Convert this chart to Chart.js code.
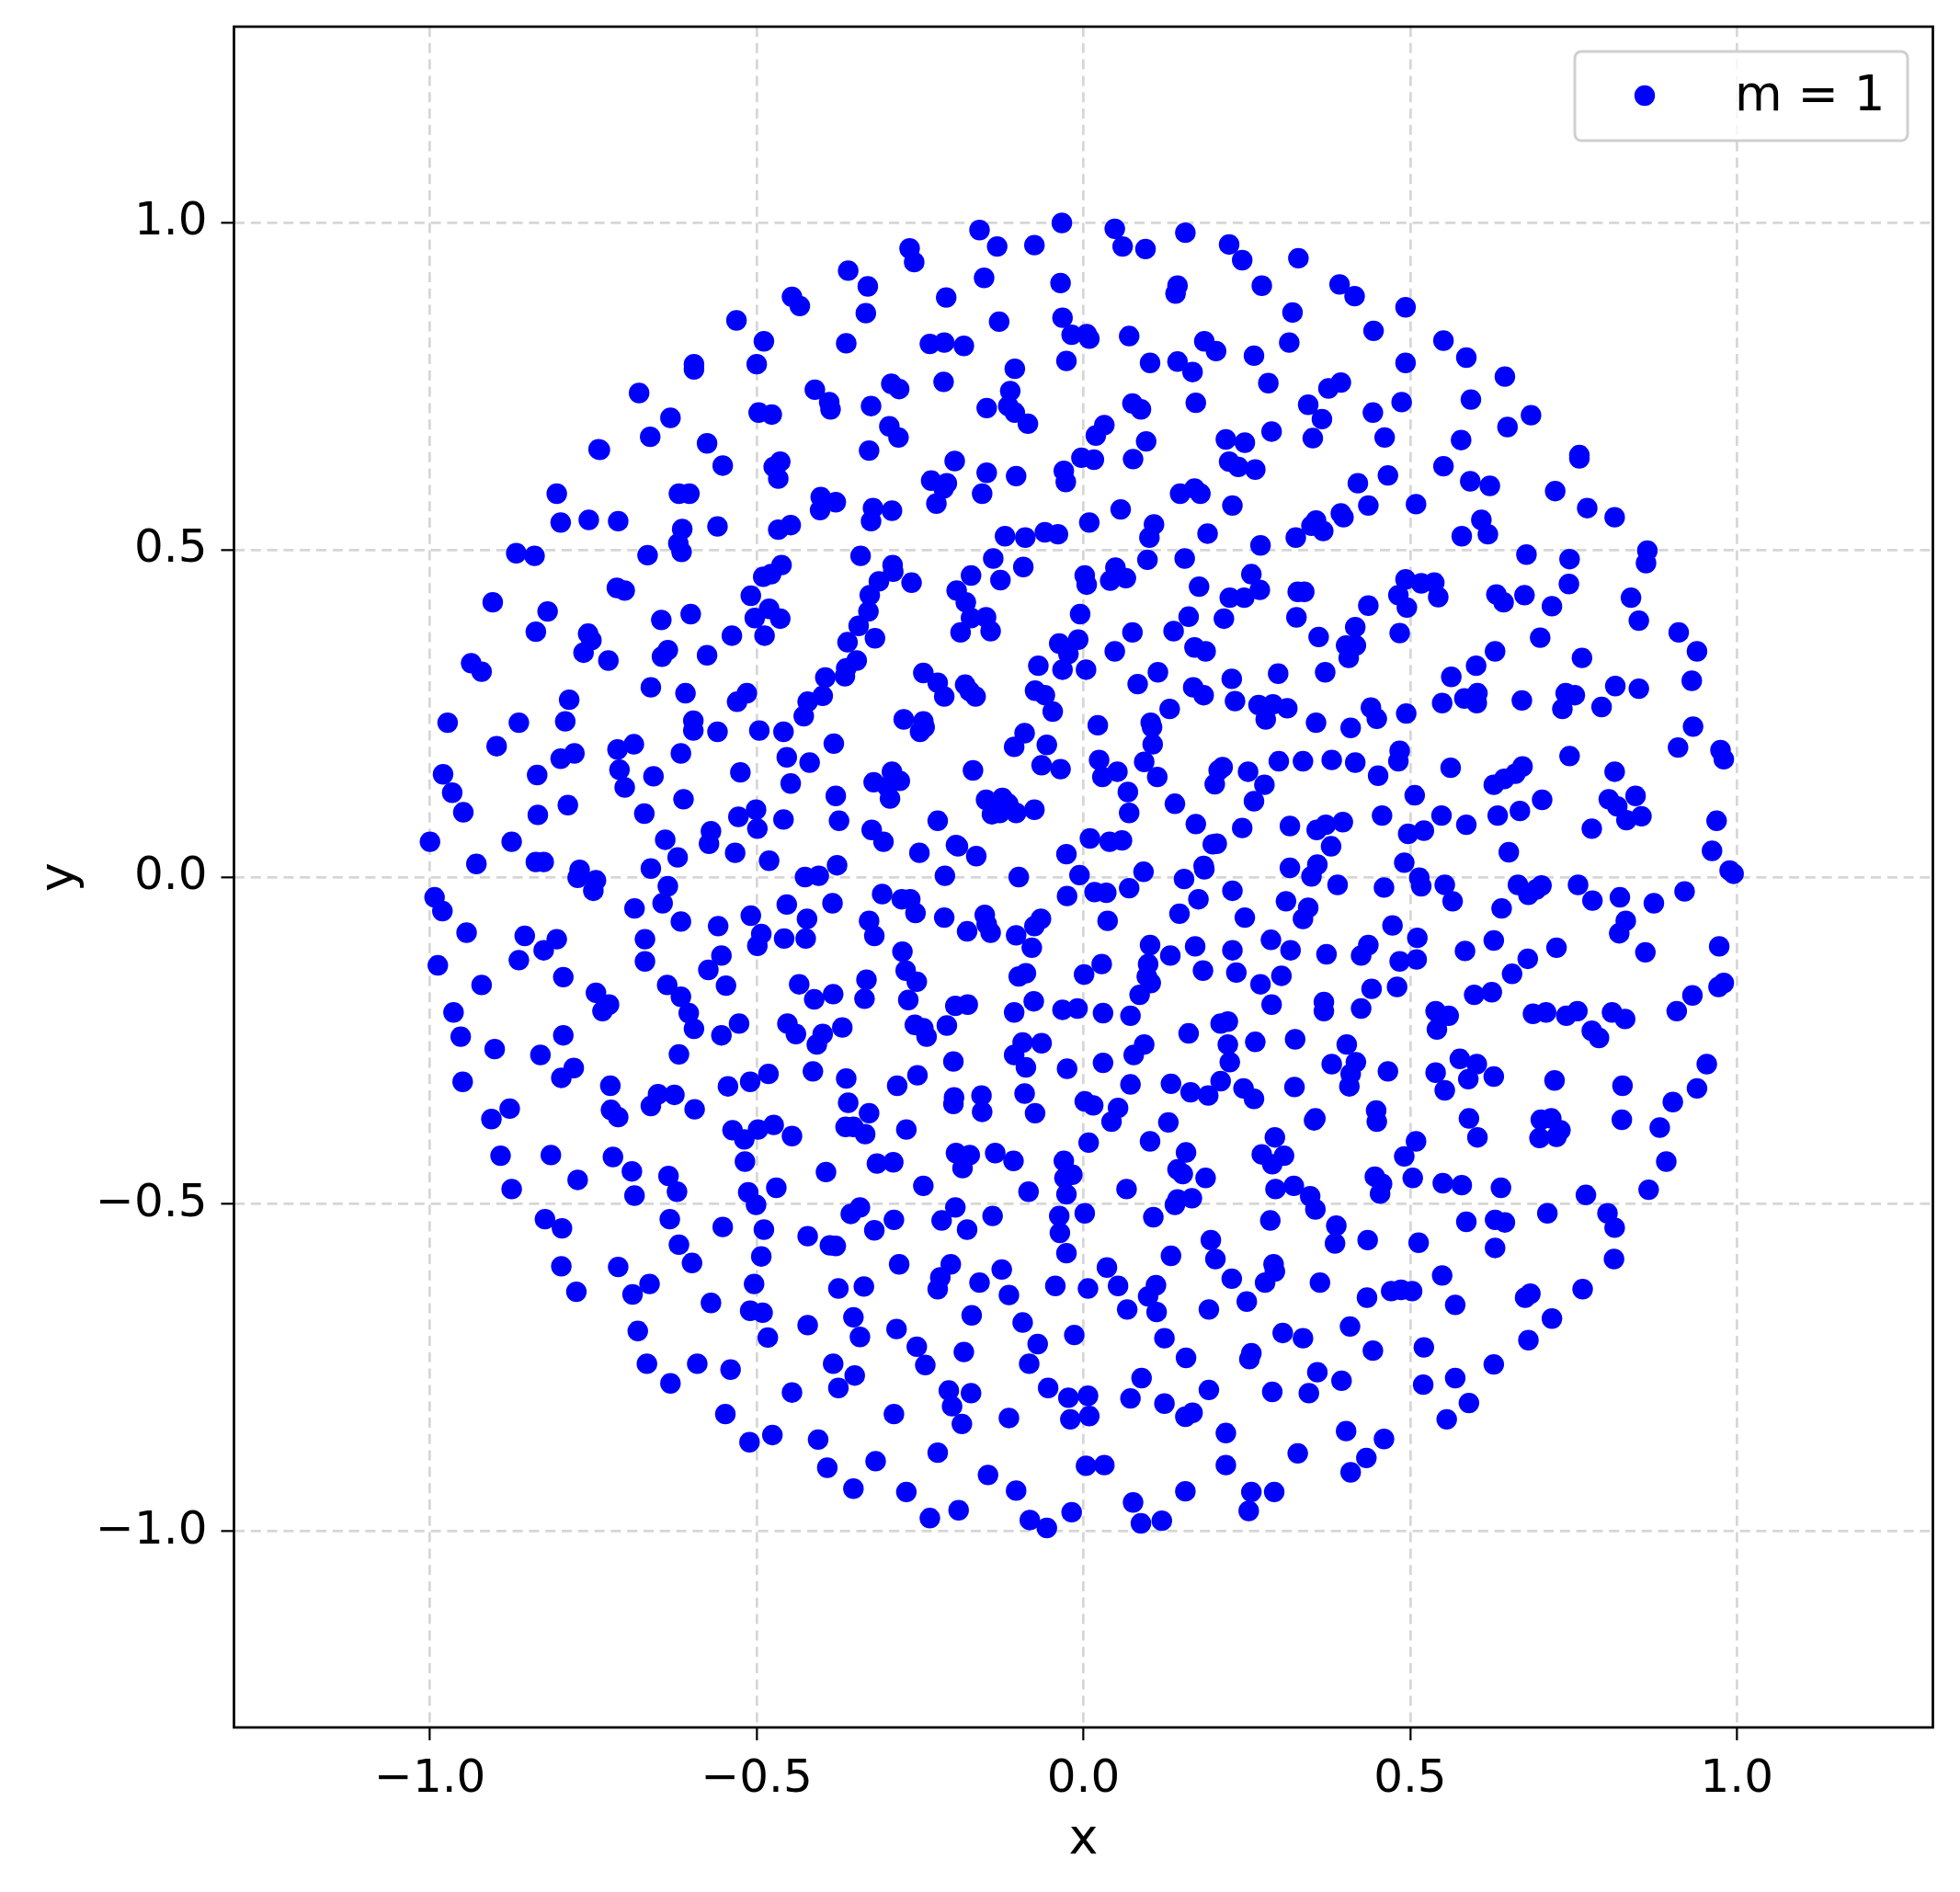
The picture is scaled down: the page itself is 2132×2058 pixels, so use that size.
<!DOCTYPE html>
<html lang="en">
<head>
  <meta charset="UTF-8" />
  <title>Points in the unit disc</title>
  <script src="https://cdn.jsdelivr.net/npm/chart.js"></script>
  <style>
    html, body { margin: 0; background: #fff; }
    canvas { display: block; }
  </style>
</head>
<body>
  <canvas id="discChart" width="2132" height="2058"></canvas>

  <script>
    const seriesLabel = 'm = 1';
    const xAxisTitle = 'x';
    const yAxisTitle = 'y';
    const tickValues = [-1, -0.5, 0, 0.5, 1];

    // one list per part of the disc
    const upperLeft = [
      [-.159,.989],[-.266,.961],[-.259,.940],[-.360,.927],[-.330,.903],[-.152,.916],[-.210,.886],[-.446,.887],[-.434,.873],
      [-.531,.851],[-.333,.862],[-.489,.819],[-.363,.816],[-.235,.815],[-.213,.817],[-.183,.812],[-.500,.784],[-.596,.784],
      [-.596,.776],[-.214,.757],[-.411,.745],[-.294,.754],[-.282,.746],[-.680,.740],[-.389,.726],[-.387,.715],[-.325,.720],
      [-.148,.717],[-.497,.710],[-.477,.707],[-.632,.702],[-.297,.689],[-.283,.672],[-.663,.673],[-.576,.663],[-.328,.652],
      [-.197,.636],[-.742,.654],[-.740,.653],[-.552,.629],[-.464,.635],[-.474,.627],[-.467,.609],[-.148,.618],[-.233,.606],
      [-.209,.602],[-.214,.594],[-.225,.571],[-.155,.586],[-.806,.586],[-.619,.586],[-.603,.586],[-.402,.581],[-.379,.573],
      [-.403,.561],[-.322,.564],[-.293,.560],[-.325,.544],[-.800,.542],[-.757,.546],[-.712,.544],[-.614,.532],[-.560,.536],
      [-.467,.531],[-.448,.538],[-.620,.510],[-.615,.497],[-.868,.495],[-.840,.491],[-.667,.492],[-.341,.491],[-.292,.477],
      [-.291,.467],[-.462,.477],[-.478,.463],[-.490,.459],[-.172,.461],[-.714,.442],[-.702,.438],[-.313,.452],[-.263,.450],
      [-.194,.438],[-.180,.420],[-.904,.420],[-.509,.430],[-.327,.431],[-.820,.406],[-.329,.406],[-.481,.410],[-.503,.396],
      [-.464,.395],[-.601,.402],[-.646,.393],[-.172,.396],[-.149,.397],[-.142,.376],[-.188,.374],[-.838,.375],[-.758,.372],
      [-.753,.362],[-.765,.343],[-.344,.384],[-.538,.369],[-.488,.369],[-.319,.365],[-.361,.359],[-.636,.347],[-.645,.337],
      [-.576,.339],[-.727,.331],[-.347,.331],[-.363,.319],[-.365,.307],[-.937,.327],[-.921,.314],[-.395,.305],[-.245,.312],
      [-.223,.297],[-.213,.276],[-.181,.294],[-.174,.284],[-.165,.276],[-.662,.290],[-.609,.281],[-.515,.281],[-.530,.268],
      [-.399,.277],[-.422,.268],[-.428,.246],[-.787,.271],[-.973,.236],[-.864,.236],[-.793,.238],[-.597,.239],[-.597,.224],
      [-.560,.222],[-.496,.224],[-.459,.222],[-.275,.241],[-.245,.238],[-.243,.229],[-.250,.222],[-.898,.200],[-.688,.203],
      [-.713,.195],[-.616,.189],[-.779,.189],[-.800,.181],[-.382,.204],[-.454,.183],[-.419,.175],[-.980,.157],[-.966,.129],
      [-.949,.099],[-.836,.156],[-.710,.164],[-.702,.137],[-.658,.154],[-.525,.160],[-.293,.161],[-.321,.145],[-.281,.147],
      [-.300,.138],[-.296,.120],[-.169,.163],[-.448,.143],[-.612,.119],[-.379,.124],[-.789,.110],[-.835,.095],[-.501,.103],
      [-.528,.092],[-.499,.074],[-.672,.097],[-.459,.088],[-.374,.086],[-.223,.086],[-.140,.096],[-.570,.070],[-.573,.051],
      [-.324,.072],[-.306,.054],[-1.0,.054],[-.875,.054],[-.640,.057],[-.195,.049],[-.192,.047],[-.251,.037],[-.164,.032],
      [-.533,.037],[-.621,.030],[-.929,.020],[-.838,.023],[-.826,.023],[-.771,.011],[-.662,.013],[-.481,.025],[-.377,.018],
      [-.426,.000],[-.405,.002],[-.212,.002],[-.774,-.001],[-.746,-.005]
    ];

    const upperRight = [
      [-.033,1.0],[.048,.991],[.060,.964],[.095,.960],[-.075,.966],[-.132,.964],[.156,.985],[.223,.967],[.243,.943],[.329,.946],
      [-.035,.908],[.144,.904],[.141,.892],[.273,.904],[.392,.906],[.415,.888],[.320,.863],[.493,.871],[-.129,.849],[-.032,.855],
      [.444,.835],[-.018,.829],[.005,.830],[.009,.823],[.070,.827],[.551,.820],[.185,.819],[.203,.804],[.315,.817],[.102,.786],
      [.144,.788],[.167,.772],[.261,.797],[.586,.794],[.493,.786],[-.105,.777],[-.026,.789],[.645,.765],[.283,.755],[.394,.756],
      [.375,.747],[-.112,.743],[-.115,.720],[-.105,.710],[-.085,.693],[.344,.722],[.365,.700],[.075,.724],[.088,.715],[.172,.725],
      [.593,.730],[.032,.691],[.019,.675],[.443,.710],[.487,.726],[.685,.706],[.649,.688],[.218,.669],[.247,.664],[.288,.681],
      [.351,.671],[.461,.672],[.578,.668],[.096,.666],[-.003,.641],[.016,.638],[.076,.639],[.223,.635],[.237,.627],[.263,.623],
      [.551,.628],[.466,.614],[-.030,.621],[-.027,.604],[-.103,.613],[.420,.602],[.592,.605],[.622,.598],[.722,.590],[.170,.594],
      [.148,.586],[.179,.586],[.228,.568],[.436,.568],[.509,.570],[.394,.556],[.398,.550],[.356,.545],[.349,.537],[.367,.529],
      [.057,.562],[.009,.542],[.108,.539],[.101,.519],[.325,.519],[.190,.525],[.609,.546],[.619,.524],[.579,.521],[-.120,.521],
      [-.089,.519],[-.059,.527],[-.039,.524],[.271,.507],[-.138,.487],[.098,.485],[.155,.487],[.678,.493],[-.092,.474],[-.127,.454],
      [.002,.461],[.005,.447],[.049,.473],[.041,.453],[.065,.457],[.257,.463],[.177,.444],[.270,.439],[.246,.427],[.224,.427],
      [.493,.455],[.517,.449],[.537,.450],[.482,.431],[.495,.412],[.543,.428],[.328,.436],[.338,.436],[.632,.432],[.643,.420],
      [.675,.431],[.717,.414],[.436,.415],[-.005,.402],[.161,.398],[.215,.395],[.326,.397],[.138,.376],[.075,.374],[.416,.382],
      [.360,.367],[.484,.373],[.699,.366],[-.008,.363],[-.037,.357],[-.023,.341],[.048,.345],[.170,.351],[.187,.345],[.402,.354],
      [.417,.354],[.406,.335],[.630,.345],[.601,.323],[-.069,.323],[-.032,.317],[.004,.317],[.114,.313],[.083,.295],[.227,.303],
      [.298,.311],[.370,.313],[.563,.306],[.168,.290],[.184,.278],[-.074,.285],[-.059,.278],[-.047,.253],[.232,.269],[.268,.263],
      [.290,.264],[.279,.241],[.312,.258],[.440,.259],[.449,.242],[.494,.250],[.549,.266],[.583,.273],[.603,.281],[.602,.266],
      [.671,.270],[.132,.257],[.103,.236],[.105,.229],[.356,.236],[.409,.228],[.022,.232],[-.090,.220],[-.106,.199],[-.056,.202],
      [.106,.203],[.484,.193],[.482,.177],[.299,.177],[.336,.177],[.380,.179],[.416,.175],[.024,.179],[.093,.176],[.562,.167],
      [.672,.169],[.661,.158],[.644,.150],[.628,.141],[.213,.168],[.207,.163],[.201,.142],[.252,.161],[-.064,.171],[-.035,.165],
      [.052,.161],[.029,.153],[.113,.153],[.451,.155],[.277,.141],[.261,.116],[.068,.130],[.507,.125],[.702,.118],[-.124,.121],
      [-.149,.118],[-.115,.112],[-.128,.098],[-.103,.098],[-.075,.103],[.070,.098],[.140,.112],[.548,.094],[.586,.080],[.634,.094],
      [.668,.101],[.457,.094],[.172,.081],[.243,.075],[.316,.078],[.357,.072],[.371,.080],[.397,.084],[.497,.066],[.521,.071],
      [.010,.059],[.040,.054],[.059,.056],[.379,.047],[.198,.050],[.204,.051],[.651,.038],[-.026,.035],[-.099,.000],[-.006,.003],
      [.092,.008],[.184,.017],[.185,.012],[.154,-.003],[.316,.014],[.358,.019],[.349,.001],[.491,.022],[.514,-.001],
      // right-hand edge
      [.759,.645],[.759,.640],[.771,.564],[.813,.550],[.863,.499],[.861,.480],[.744,.486],[.743,.448],[.838,.427],[.850,.392],
      [.911,.374],[.939,.345],[.931,.300],[.763,.335],[.738,.281],[.752,.278],[.733,.257],[.814,.292],[.850,.288],[.793,.260],
      [.933,.230],[.910,.198],[.975,.194],[.980,.180],[.744,.185],[.813,.161],[.845,.124],[.804,.119],[.817,.108],[.854,.093],
      [.831,.087],[.778,.074],[.969,.086],[.962,.040],[.989,.010],[.995,.005]
    ];

    const lowerLeft = [
      [-.993,-.031],[-.981,-.052],[-.944,-.085],[-.855,-.090],[-.806,-.095],[-.826,-.112],[-.864,-.127],[-.988,-.135],[-.921,-.165],
      [-.796,-.153],[-.746,-.177],[-.726,-.195],[-.736,-.205],[-.964,-.207],[-.953,-.244],[-.901,-.263],[-.950,-.313],[-.796,-.242],
      [-.831,-.272],[-.780,-.292],[-.799,-.307],[-.724,-.319],[-.878,-.354],[-.906,-.370],[-.723,-.356],[-.712,-.367],[-.892,-.426],
      [-.815,-.425],[-.875,-.477],[-.774,-.463],[-.720,-.428],[-.691,-.450],[-.687,-.487],[-.824,-.523],[-.798,-.537],[-.799,-.595],
      [-.712,-.596],[-.776,-.634],[-.664,-.622],[-.690,-.638],[-.682,-.694],[-.668,-.744],[-.632,-.774],[-.591,-.744],[-.540,-.753],
      [-.570,-.651],[-.635,-.457],[-.622,-.481],[-.633,-.523],[-.619,-.562],[-.599,-.590],[-.552,-.535],[-.687,-.048],[-.644,-.040],
      [-.636,-.014],[-.616,-.068],[-.750,-.021],[-.671,-.095],[-.671,-.129],[-.559,-.075],[-.509,-.059],[-.493,-.087],[-.499,-.105],
      [-.454,-.042],[-.458,-.094],[-.425,-.094],[-.423,-.064],[-.384,-.040],[-.308,-.026],[-.278,-.034],[-.265,-.034],[-.257,-.055],
      [-.213,-.062],[-.328,-.067],[-.320,-.090],[-.178,-.083],[-.151,-.058],[-.148,-.072],[-.142,-.085],[-.637,-.165],[-.616,-.183],
      [-.604,-.208],[-.596,-.232],[-.554,-.120],[-.574,-.142],[-.547,-.166],[-.527,-.224],[-.554,-.242],[-.619,-.271],[-.435,-.164],
      [-.412,-.187],[-.383,-.179],[-.332,-.157],[-.335,-.186],[-.277,-.114],[-.272,-.143],[-.255,-.160],[-.268,-.188],[-.453,-.224],
      [-.440,-.240],[-.399,-.240],[-.408,-.256],[-.369,-.230],[-.196,-.197],[-.177,-.195],[-.258,-.226],[-.245,-.231],[-.240,-.244],
      [-.209,-.227],[-.199,-.282],[-.414,-.297],[-.363,-.308],[-.482,-.301],[-.510,-.313],[-.544,-.320],[-.254,-.303],[-.285,-.319],
      [-.651,-.332],[-.626,-.333],[-.662,-.350],[-.595,-.355],[-.360,-.345],[-.328,-.361],[-.198,-.337],[-.199,-.347],[-.156,-.334],
      [-.155,-.359],[-.537,-.387],[-.519,-.401],[-.498,-.386],[-.474,-.379],[-.446,-.396],[-.364,-.382],[-.352,-.382],[-.334,-.393],
      [-.271,-.386],[-.518,-.435],[-.195,-.422],[-.174,-.425],[-.185,-.445],[-.316,-.438],[-.291,-.436],[-.394,-.451],[-.245,-.472],
      [-.513,-.482],[-.501,-.501],[-.470,-.475],[-.342,-.505],[-.356,-.515],[-.290,-.524],[-.320,-.540],[-.196,-.505],[-.217,-.525],
      [-.178,-.539],[-.489,-.539],[-.422,-.549],[-.388,-.563],[-.379,-.564],[-.493,-.580],[-.282,-.592],[-.203,-.592],[-.219,-.612],
      [-.223,-.630],[-.159,-.620],[-.504,-.622],[-.375,-.629],[-.336,-.626],[-.510,-.663],[-.491,-.666],[-.483,-.704],[-.352,-.673],
      [-.342,-.703],[-.422,-.685],[-.286,-.691],[-.171,-.670],[-.255,-.718],[-.242,-.746],[-.183,-.726],[-.383,-.744],[-.350,-.762],
      [-.375,-.781],[-.446,-.788],[-.206,-.785],[-.172,-.789],[-.201,-.809],[-.186,-.836],[-.548,-.821],[-.290,-.821],[-.476,-.853],
      [-.511,-.864],[-.406,-.860],[-.223,-.880],[-.392,-.903],[-.318,-.893],[-.146,-.914],[-.352,-.935],[-.271,-.940],[-.191,-.968],
      [-.235,-.980]
    ];

    const lowerRight = [
      [-.025,-.029],[.017,-.023],[.035,-.024],[.070,-.017],[.389,-.012],[.460,-.016],[.228,-.021],[.517,-.014],[.553,-.012],[.565,-.037],
      [.665,-.012],[.681,-.027],[.693,-.019],[.701,-.013],[.176,-.034],[.147,-.056],[.310,-.037],[.344,-.047],[.336,-.064],[.247,-.062],
      [.640,-.048],[.473,-.074],[.037,-.067],[-.065,-.064],[-.075,-.075],[-.103,-.089],[-.079,-.108],[.102,-.104],[.133,-.120],[.171,-.106],
      [.228,-.112],[.287,-.096],[.317,-.112],[.372,-.118],[.436,-.104],[.425,-.120],[.511,-.093],[.510,-.126],[.484,-.129],[.584,-.113],
      [.628,-.097],[.680,-.125],[.656,-.148],[.724,-.108],[.028,-.133],[.001,-.149],[-.088,-.147],[-.099,-.152],[.099,-.133],[.097,-.152],
      [.103,-.162],[.086,-.180],[.183,-.143],[.234,-.146],[.303,-.151],[.271,-.164],[.288,-.195],[.441,-.171],[.425,-.201],[.480,-.168],
      [.368,-.191],[.368,-.205],[.625,-.176],[.598,-.180],[-.076,-.190],[-.106,-.207],[-.032,-.203],[-.009,-.201],[.030,-.208],[.072,-.212],
      [.539,-.205],[.559,-.212],[.541,-.233],[.688,-.209],[.708,-.207],[.210,-.224],[.221,-.221],[.161,-.239],[.263,-.252],[.324,-.248],
      [.221,-.256],[.224,-.283],[-.093,-.253],[-.106,-.272],[-.088,-.291],[-.064,-.254],[.093,-.256],[.077,-.272],[-.025,-.293],[.030,-.284],
      [.403,-.256],[.417,-.283],[.380,-.286],[.409,-.301],[.407,-.320],[.466,-.297],[.576,-.278],[.602,-.286],[.539,-.299],[.589,-.309],
      [.628,-.305],[.553,-.326],[.721,-.311],[.210,-.312],[.134,-.316],[.164,-.329],[.191,-.334],[.072,-.317],[.245,-.323],[.261,-.339],
      [.323,-.321],[-.090,-.331],[-.074,-.361],[.002,-.343],[.015,-.349],[.053,-.353],[.043,-.374],[.130,-.375],[.355,-.369],[.353,-.372],
      [.448,-.357],[.449,-.374],[.590,-.369],[.603,-.398],[.700,-.371],[.716,-.369],[.698,-.399],[.724,-.397],[.730,-.387],[.008,-.406],
      [.102,-.404],[.509,-.404],[.491,-.427],[.293,-.398],[.273,-.424],[.289,-.439],[.307,-.426],[.157,-.421],[-.135,-.422],[-.107,-.434],
      [-.030,-.434],[-.017,-.455],[-.029,-.460],[-.026,-.485],[.144,-.447],[.152,-.454],[.187,-.460],[-.084,-.481],[.066,-.477],[.446,-.458],
      [.457,-.469],[.454,-.484],[.504,-.460],[.550,-.468],[.579,-.471],[.639,-.475],[.294,-.477],[.322,-.472],[.347,-.488],[.355,-.508],
      [.166,-.491],[.144,-.493],[.140,-.501],[-.139,-.518],[-.037,-.518],[-.036,-.544],[-.026,-.575],[.002,-.514],[.107,-.520],[.286,-.525],
      [.710,-.514],[.586,-.527],[.630,-.524],[.645,-.528],[.630,-.567],[.387,-.533],[.385,-.560],[.435,-.555],[.513,-.559],[.195,-.555],
      [.202,-.584],[.134,-.579],[.291,-.592],[.293,-.603],[.278,-.620],[.227,-.614],[-.125,-.600],[-.114,-.639],[.036,-.597],[.053,-.625],
      [-.043,-.625],[.007,-.629],[.111,-.624],[.099,-.641],[.067,-.661],[.112,-.665],[.192,-.661],[.250,-.649],[.362,-.620],[.549,-.609],
      [.434,-.643],[.471,-.633],[.486,-.631],[.503,-.633],[.569,-.654],[.684,-.637],[.676,-.643],[.717,-.675],[-.093,-.681],[-.070,-.714],
      [-.014,-.700],[-.083,-.744],[.124,-.705],[.305,-.697],[.336,-.705],[.408,-.687],[.443,-.724],[.521,-.719],[.681,-.708],[.157,-.735],
      [.257,-.728],[.254,-.737],[.628,-.745],[.089,-.766],[.358,-.757],[.395,-.770],[-.054,-.781],[-.023,-.796],[.007,-.793],[-.020,-.829],
      [.009,-.824],[-.114,-.827],[.072,-.797],[.124,-.805],[.192,-.784],[.167,-.819],[.156,-.825],[.289,-.787],[.345,-.789],[.520,-.776],
      [.569,-.766],[.590,-.804],[.556,-.829],[.218,-.850],[.218,-.899],[.402,-.847],[.460,-.859],[.433,-.888],[.409,-.910],[.328,-.881],
      [.004,-.900],[.032,-.899],[-.103,-.938],[-.082,-.983],[-.056,-.995],[-.018,-.971],[.076,-.956],[.156,-.939],[.088,-.988],[.120,-.984],
      [.257,-.940],[.292,-.940],[.253,-.969],
      // right-hand edge
      [.757,-.012],[.779,-.036],[.821,-.031],[.873,-.040],[.920,-.022],[.830,-.067],[.820,-.086],[.860,-.115],[.973,-.106],[.980,-.162],
      [.972,-.168],[.932,-.181],[.908,-.205],[.829,-.217],[.809,-.207],[.756,-.205],[.739,-.212],[.778,-.235],[.789,-.246],[.825,-.319],
      [.954,-.286],[.939,-.323],[.902,-.344],[.882,-.383],[.824,-.371],[.892,-.435],[.865,-.478],[.769,-.486],[.802,-.514],[.813,-.536],
      [.812,-.584],[.764,-.630]
    ];

    const points = [...upperLeft, ...upperRight, ...lowerLeft, ...lowerRight].map(p => ({ x: p[0], y: p[1] }));

    const fontFamily = '"DejaVu Sans"';
    const blue = '#0000ff';

    function tickText(value) {
      return value.toFixed(1).replace('-', '\u2212');
    }

    // closed frame round the plot, and the legend box in the top right corner
    const framePlugin = {
      id: 'frame',
      afterDraw(chart) {
        const { ctx, chartArea: a } = chart;
        ctx.save();
        ctx.strokeStyle = '#000';
        ctx.lineWidth = 2.7;
        ctx.strokeRect(a.left, a.top, a.right - a.left, a.bottom - a.top);

        const box = { x: 1713, y: 56, w: 362, h: 97 };
        ctx.beginPath();
        ctx.roundRect(box.x, box.y, box.w, box.h, 7);
        ctx.fillStyle = 'rgba(255,255,255,0.8)';
        ctx.fill();
        ctx.strokeStyle = '#cfcfcf';
        ctx.lineWidth = 3;
        ctx.stroke();

        ctx.beginPath();
        ctx.arc(1789, 104, 11.2, 0, Math.PI * 2);
        ctx.fillStyle = blue;
        ctx.fill();

        ctx.fillStyle = '#000';
        ctx.font = '53px ' + fontFamily;
        ctx.textAlign = 'left';
        ctx.textBaseline = 'alphabetic';
        ctx.fillText(seriesLabel, 1887, 120);
        ctx.restore();
      }
    };

    function axisOptions(title, titlePadding, tickPadding, fitFn) {
      return {
        type: 'linear',
        min: -1.3,
        max: 1.3,
        afterBuildTicks: scale => { scale.ticks = tickValues.map(v => ({ value: v })); },
        afterFit: fitFn,
        border: { display: false, dash: [11, 6.8] },
        grid: {
          color: '#d6d6d6',
          lineWidth: 2.7,
          tickColor: '#000',
          tickWidth: 2.2,
          tickLength: 14
        },
        ticks: {
          color: '#000',
          font: { family: fontFamily, size: 50 },
          padding: tickPadding,
          maxRotation: 0,
          autoSkip: false,
          callback: tickText
        },
        title: {
          display: true,
          text: title,
          color: '#000',
          font: { family: fontFamily, size: 54 },
          padding: titlePadding
        }
      };
    }

    function fitX(s) {
      s.height = 179;
      s.paddingLeft = 0;
      s.paddingRight = 0;
    }

    function fitY(s) {
      s.width = 254.5;
      s.paddingTop = 0;
      s.paddingBottom = 0;
    }

    new Chart(document.getElementById('discChart').getContext('2d'), {
      type: 'scatter',
      data: {
        datasets: [{
          label: seriesLabel,
          data: points,
          backgroundColor: blue,
          borderWidth: 0,
          pointRadius: 11.2
        }]
      },
      options: {
        responsive: false,
        animation: false,
        layout: { padding: { top: 29, right: 29.5, left: 0, bottom: 0 } },
        plugins: { legend: { display: false }, tooltip: { enabled: false } },
        scales: {
          x: Object.assign(axisOptions(xAxisTitle, { bottom: 24 }, 13, fitX), { position: 'bottom' }),
          y: Object.assign(axisOptions(yAxisTitle, { top: 34 }, 15, fitY), { position: 'left' })
        }
      },
      plugins: [framePlugin]
    });
  </script>
</body>
</html>
